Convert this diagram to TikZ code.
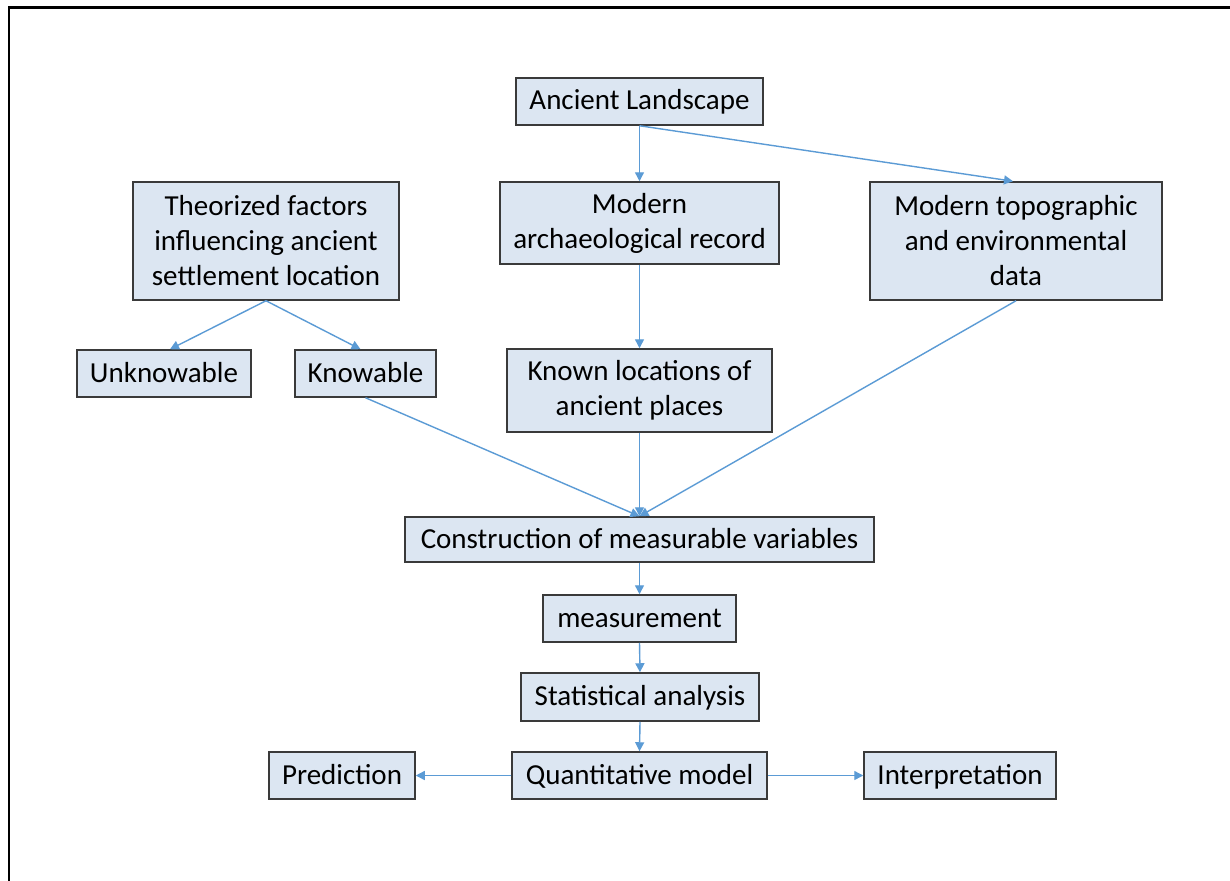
\documentclass[tikz,border=0pt]{standalone}
\usepackage{fontspec}
\setmainfont{Carlito}
\usetikzlibrary{arrows.meta}
\definecolor{boxfill}{HTML}{DCE6F2}
\definecolor{boxline}{HTML}{3A3A3A}
\definecolor{arrowc}{HTML}{5B9BD5}
\begin{document}
\begin{tikzpicture}[x=1pt,y=-1pt,
  boxbase/.style={draw=boxline, line width=1.5pt, fill=boxfill, inner sep=0pt, font=\fontsize{29}{35}\selectfont},
  box1/.style={boxbase, text height=21pt, text depth=4pt},
  boxm/.style={boxbase, align=center},
  conn/.style={draw=arrowc, line width=1.4pt, -{Triangle[length=9pt,width=9pt]}}]
\useasboundingbox (0,0) rectangle (1230,880);
\fill[white] (0,0) rectangle (1230,880);
\draw[line width=2.2pt] (9,890) -- (9,7.5) -- (1240,7.5);

\node[box1, minimum width=247pt, minimum height=47pt] (anc) at (639.5,101.5) {Ancient Landscape};
\node[boxm, minimum width=266pt, minimum height=118pt] (theo) at (266,241) {Theorized factors\\influencing ancient\\settlement location};
\node[boxm, minimum width=279pt, minimum height=82pt] (arch) at (639.5,223) {Modern\\archaeological record};
\node[boxm, minimum width=292pt, minimum height=118pt] (topo) at (1016,241) {Modern topographic\\and environmental\\data};
\node[box1, minimum width=174pt, minimum height=47pt] (unk) at (164,373.5) {Unknowable};
\node[box1, minimum width=141pt, minimum height=47pt] (know) at (365.5,373.5) {Knowable};
\node[boxm, minimum width=265pt, minimum height=83pt] (loc) at (639.5,390.5) {Known locations of\\ancient places};
\node[box1, minimum width=469pt, minimum height=45pt] (cons) at (639.5,539.5) {Construction of measurable variables};
\node[box1, minimum width=193pt, minimum height=47pt] (meas) at (639.5,618.5) {measurement};
\node[box1, minimum width=238pt, minimum height=48pt] (stat) at (640,697) {Statistical analysis};
\node[box1, minimum width=255pt, minimum height=47pt] (quant) at (639.5,775.5) {Quantitative model};
\node[box1, minimum width=146pt, minimum height=47pt] (pred) at (342,775.5) {Prediction};
\node[box1, minimum width=192pt, minimum height=47pt] (interp) at (960,775.5) {Interpretation};

\draw[conn] (anc.south) -- (arch.north);
\draw[conn] (anc.south) -- ([xshift=-3pt]topo.north);
\draw[conn] (theo.south) -- ([xshift=6pt]unk.north);
\draw[conn] (theo.south) -- ([xshift=-5pt]know.north);
\draw[conn] (arch.south) -- (loc.north);
\draw[conn] (know.south) -- (cons.north);
\draw[conn] (loc.south) -- (cons.north);
\draw[conn] (topo.south) -- (cons.north);
\draw[conn] (cons.south) -- (meas.north);
\draw[conn] (meas.south) -- (stat.north);
\draw[conn] (stat.south) -- (quant.north);
\draw[conn] (quant.west) -- (pred.east);
\draw[conn] (quant.east) -- (interp.west);
\end{tikzpicture}
\end{document}
